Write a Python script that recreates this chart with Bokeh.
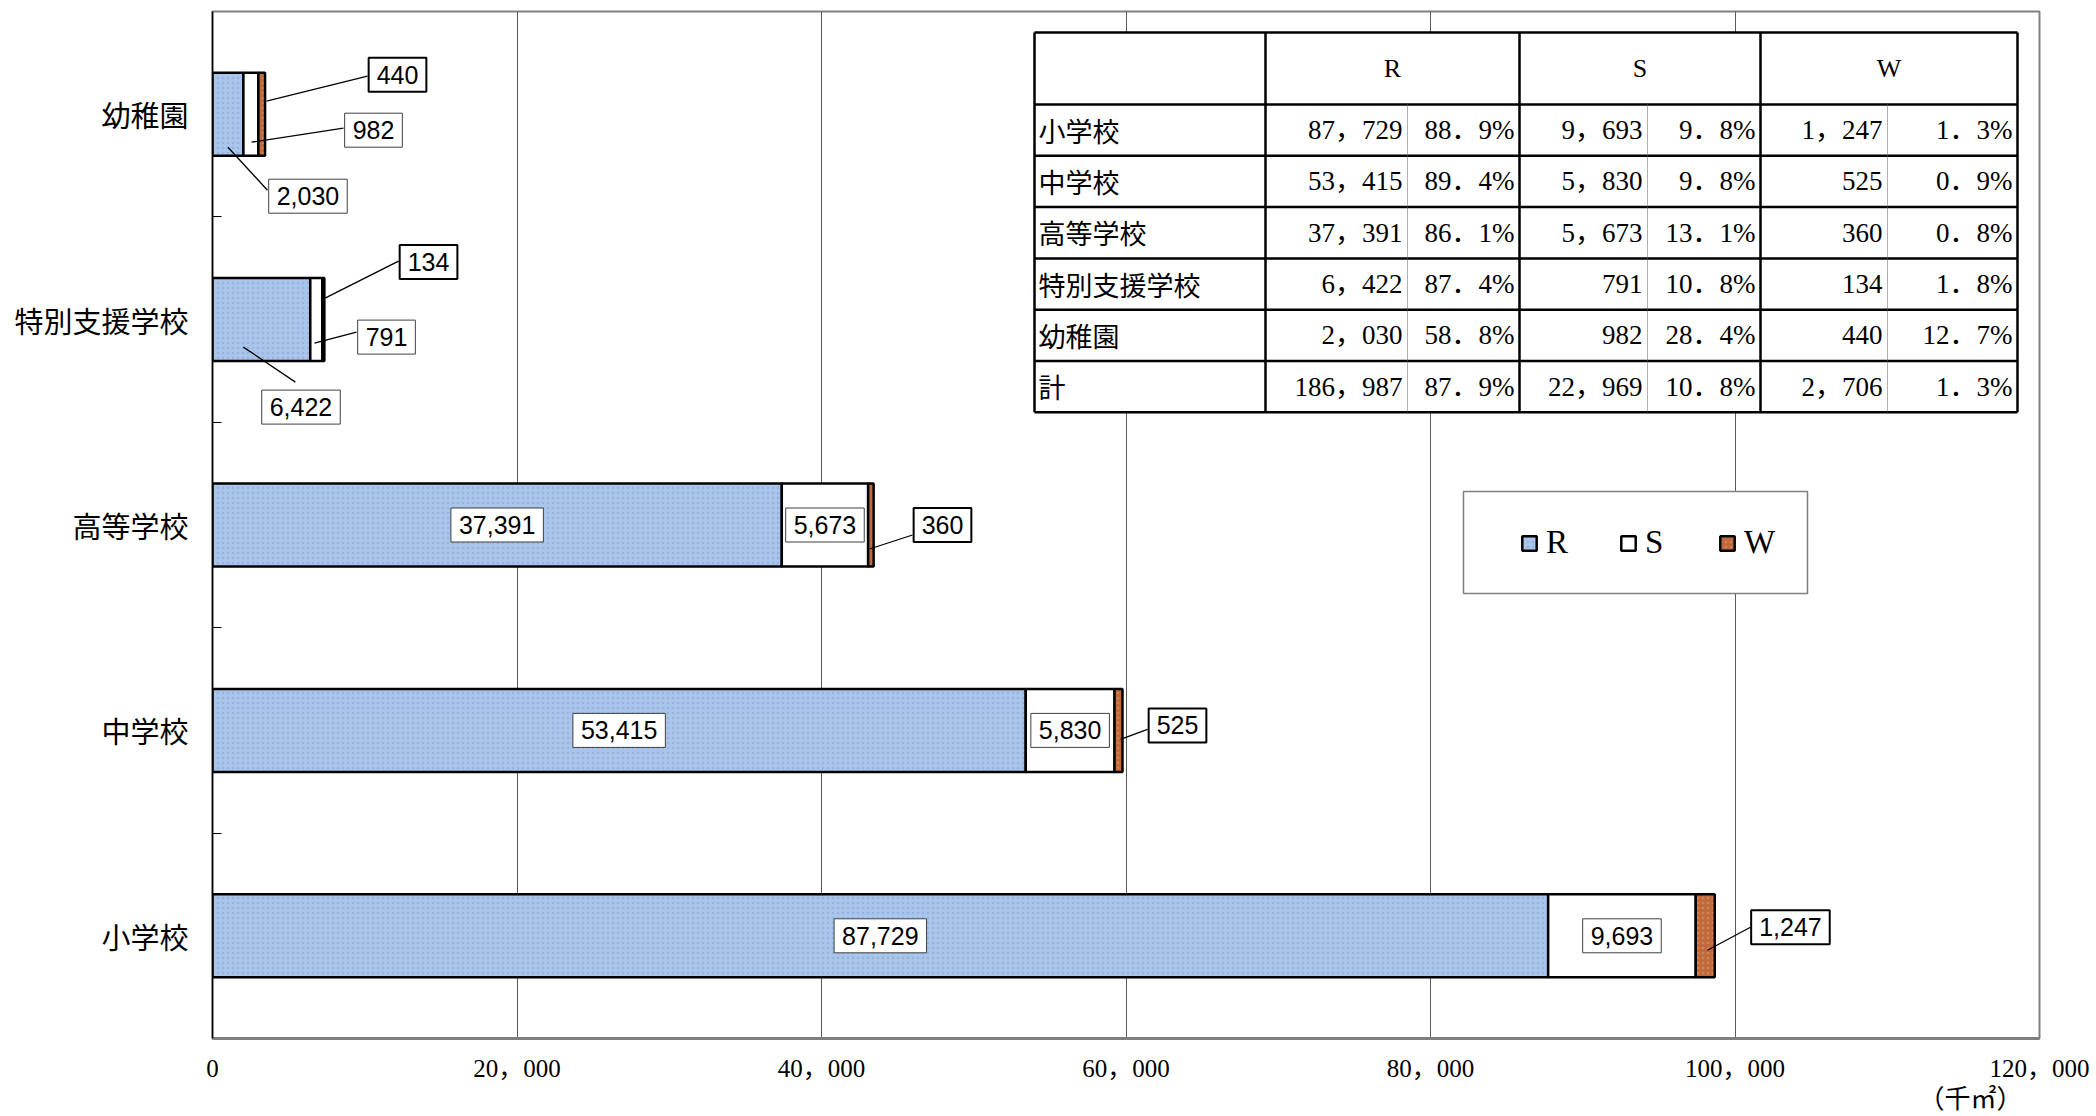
from bokeh.plotting import figure
from bokeh.models import Range1d, FixedTicker, ColumnDataSource, Legend, LegendItem, LinearAxis
from bokeh.core.properties import value
from bokeh.embed import file_html
from bokeh.resources import INLINE

# ---------------- data ----------------
categories = ["小学校", "中学校", "高等学校", "特別支援学校", "幼稚園"]
series = ["R", "S", "W"]
r_values = [87729, 53415, 37391, 6422, 2030]
s_values = [9693, 5830, 5673, 791, 982]
w_values = [1247, 525, 360, 134, 440]
total_label = "計"
x_ticks = [0, 20000, 40000, 60000, 80000, 100000, 120000]
x_tick_labels = ["0", "20，000", "40，000", "60，000", "80，000", "100，000", "120，000"]
unit_label = "（千㎡）"
colors = ["#A9C5EB", "#FFFFFF", "#C0693A"]
hatch_colors = ["#7F9DC8", None, "#E8A57A"]

# ---------------- layout ----------------
BL, BR, BT, BB = 212, 55, 11, 72
FW, FH = 1827, 1027
X_MAX = x_ticks[-1]
N = len(categories)
OX, OY = BL, BT   # frame origin in picture pixels


def X(px):
    return (px - OX) * X_MAX / FW


def Y(py):
    return N - (py - OY) * N / FH


def DX(px):
    return px * X_MAX / FW


def DY(py):
    return -py * N / FH


SANS = value("Liberation Sans")
SERIF = value("Liberation Serif, Noto Sans CJK JP")
JP = value("Noto Sans CJK JP")

p = figure(frame_width=FW, frame_height=FH, output_backend="svg", toolbar_location=None,
           x_range=Range1d(0, X_MAX), y_range=Range1d(0, N),
           min_border_left=BL, min_border_right=BR, min_border_top=BT, min_border_bottom=BB)
p.background_fill_color = "white"
p.border_fill_color = "white"
p.outline_line_color = "#808080"
p.outline_line_width = 2

# axes
p.xaxis.ticker = FixedTicker(ticks=x_ticks)
p.xaxis.major_label_overrides = {t: l for t, l in zip(x_ticks, x_tick_labels)}
p.xaxis.major_label_text_font = "Liberation Serif, Noto Sans CJK JP"
p.xaxis.major_label_text_font_size = "25px"
p.xaxis.major_label_text_color = "black"
p.xaxis.major_label_standoff = 16
p.xaxis.major_tick_in = 0
p.xaxis.major_tick_out = 0
p.xaxis.minor_tick_in = 0
p.xaxis.minor_tick_out = 0
p.xaxis.axis_line_color = "#7F7F7F"
p.xaxis.axis_line_width = 3

# unit label as a second bottom axis carrying one labelled position
unit_pos = X(1970)
unit_axis = LinearAxis(ticker=FixedTicker(ticks=[unit_pos]), major_label_overrides={unit_pos: unit_label},
                       major_label_text_font="Liberation Serif, Noto Sans CJK JP",
                       major_label_text_font_size="26px", major_label_text_color="black",
                       major_label_standoff=0, major_tick_in=0, major_tick_out=0,
                       minor_tick_in=0, minor_tick_out=0, axis_line_alpha=0)
p.add_layout(unit_axis, "below")

ycenters = [i + 0.5 for i in range(N)]
p.yaxis.ticker = FixedTicker(ticks=ycenters, minor_ticks=[i for i in range(1, N)])
p.yaxis.major_label_overrides = {c: n for c, n in zip(ycenters, categories)}
p.yaxis.major_label_text_font = "Noto Sans CJK JP"
p.yaxis.major_label_text_font_size = "29px"
p.yaxis.major_label_text_color = "black"
p.yaxis.major_label_standoff = 24
p.yaxis.major_tick_in = 0
p.yaxis.major_tick_out = 0
p.yaxis.minor_tick_in = 9
p.yaxis.minor_tick_out = 0
p.yaxis.minor_tick_line_color = "black"
p.yaxis.minor_tick_line_width = 1
p.yaxis.axis_line_color = "black"
p.yaxis.axis_line_width = 1.5

p.xgrid.grid_line_color = "#5A5A5A"
p.xgrid.grid_line_width = 1
p.ygrid.visible = False

# ---------------- bars ----------------
vals = [r_values, s_values, w_values]
lefts, rights = [], []
acc = [0] * N
for v in vals:
    lefts.append(list(acc))
    acc = [a + b for a, b in zip(acc, v)]
    rights.append(list(acc))

BAR_H = 0.404
renderers = []
for k, name in enumerate(series):
    src = ColumnDataSource(dict(y=ycenters, left=lefts[k], right=rights[k]))
    kw = {}
    if hatch_colors[k]:
        kw = dict(hatch_pattern="dot", hatch_color=hatch_colors[k], hatch_scale=5,
                  hatch_alpha=0.45, hatch_weight=1)
    r = p.hbar(y="y", left="left", right="right", height=BAR_H, source=src,
               fill_color=colors[k], line_color="black", line_width=2.5, **kw)
    renderers.append(r)

# ---------------- data labels ----------------
# offsets in pixels (box dx, box dy, leader start dx, dy, leader end dx, dy) from segment mid / category centre
offsets = {
    (4, 0): (80, 82, 0, 33, 39.5, 76),
    (4, 1): (122.6, 16, 0.6, 28, 92.6, 14),
    (4, 2): (135.8, -39.5, 4.8, -13, 105.8, -38),
    (3, 0): (39.6, 87.5, -18, 27.5, 34, 62.5),
    (3, 1): (70.2, 17.5, -1.8, 23.5, 40.2, 12.5),
    (3, 2): (105.2, -57.5, 1.7, -21.5, 75.2, -58.5),
    (2, 2): (71.6, 0, -1.4, 24, 41.6, 10),
    (1, 2): (59, -5, 2, 9, 29, -1),
    (0, 2): (85.2, -8.5, 2.2, 14.5, 45.2, -8.5),
}
thin = dict(x=[], y=[], t=[])
thick = dict(x=[], y=[], t=[])
lead = dict(x0=[], y0=[], x1=[], y1=[])
for k in range(len(series)):
    for i in range(N):
        mid = (lefts[k][i] + rights[k][i]) / 2
        yc = ycenters[i]
        txt = f"{vals[k][i]:,}"
        o = offsets.get((i, k))
        bx, by = mid, yc
        if o:
            bx, by = mid + DX(o[0]), yc + DY(o[1])
            lead["x0"].append(mid + DX(o[2]))
            lead["y0"].append(yc + DY(o[3]))
            lead["x1"].append(mid + DX(o[4]))
            lead["y1"].append(yc + DY(o[5]))
        d = thick if k == 2 else thin
        d["x"].append(bx)
        d["y"].append(by)
        d["t"].append(txt)

p.segment(x0="x0", y0="y0", x1="x1", y1="y1", source=ColumnDataSource(lead),
          line_color="black", line_width=1.3)
p.text(x="x", y="y", text="t", source=ColumnDataSource(thin), text_font=SANS,
       text_font_size="25px", text_align="center", text_baseline="middle", text_color="black",
       background_fill_color="white", border_line_color="#404040", border_line_width=1, padding=8)
p.text(x="x", y="y", text="t", source=ColumnDataSource(thick), text_font=SANS,
       text_font_size="25px", text_align="center", text_baseline="middle", text_color="black",
       background_fill_color="white", border_line_color="black", border_line_width=2, padding=8)

# ---------------- table ----------------
TX = [1034, 1265, 1407, 1519, 1647, 1760, 1887, 2017]
T_TOP, HEAD_H, ROW_H = 32, 72, 51.3
rows = categories + [total_label]
n_rows = len(rows)
T_BOT = T_TOP + HEAD_H + ROW_H * n_rows
p.quad(left=X(TX[0]), right=X(TX[-1]), top=Y(T_TOP), bottom=Y(T_BOT), fill_color="white", line_color=None)

hy = [T_TOP, T_TOP + HEAD_H] + [T_TOP + HEAD_H + ROW_H * (j + 1) for j in range(n_rows)]
p.segment(x0=[X(TX[0])] * len(hy), x1=[X(TX[-1])] * len(hy), y0=[Y(v) for v in hy], y1=[Y(v) for v in hy],
          line_color="black", line_width=2.5)
main_x = [TX[0], TX[1], TX[3], TX[5], TX[7]]
p.segment(x0=[X(v) for v in main_x], x1=[X(v) for v in main_x], y0=[Y(T_TOP)] * 5, y1=[Y(T_BOT)] * 5,
          line_color="black", line_width=2.5)
sub_x = [TX[2], TX[4], TX[6]]
p.segment(x0=[X(v) for v in sub_x], x1=[X(v) for v in sub_x], y0=[Y(T_TOP + HEAD_H)] * 3, y1=[Y(T_BOT)] * 3,
          line_color="#606060", line_width=1, line_dash="1 1")

# header
p.text(x=[X((TX[1] + TX[3]) / 2), X((TX[3] + TX[5]) / 2), X((TX[5] + TX[7]) / 2)],
       y=[Y(T_TOP + HEAD_H / 2)] * 3, text=series, text_font=SERIF, text_font_size="26px",
       text_align="center", text_baseline="middle", text_color="black")

tot = [sum(r_values), sum(s_values), sum(w_values)]
row_vals = []
for i in range(N):
    row_vals.append([r_values[i], s_values[i], w_values[i]])
row_vals.append(tot)

lab = dict(x=[], y=[], t=[])
num = dict(x=[], y=[], t=[])
for j, (name, rv) in enumerate(zip(rows, row_vals)):
    yc = Y(T_TOP + HEAD_H + ROW_H * (j + 0.5))
    lab["x"].append(X(TX[0] + 4))
    lab["y"].append(yc)
    lab["t"].append(name)
    s = sum(rv)
    for k in range(3):
        num["x"].append(X(TX[2 * k + 2] - 5))
        num["y"].append(yc)
        num["t"].append(f"{rv[k]:,}".replace(",", "，"))
        num["x"].append(X(TX[2 * k + 3] - 5))
        num["y"].append(yc)
        num["t"].append(f"{100 * rv[k] / s:.1f}".replace(".", "．") + "%")

p.text(x="x", y="y", text="t", source=ColumnDataSource(lab), text_font=JP, text_font_size="27px",
       text_align="left", text_baseline="middle", text_color="black")
p.text(x="x", y="y", text="t", source=ColumnDataSource(num), text_font=SERIF, text_font_size="27px",
       text_align="right", text_baseline="middle", text_color="black")

# ---------------- legend ----------------
p.quad(left=X(1463), right=X(1807), top=Y(491), bottom=Y(593), fill_color="white",
       line_color="#808080", line_width=1.5)
legend = Legend(items=[LegendItem(label=n, renderers=[r]) for n, r in zip(series, renderers)],
                orientation="horizontal", location=(1520 - OX, (OY + FH) - 561),
                padding=0, margin=0, spacing=40, glyph_width=18, glyph_height=18,
                label_width=33, label_standoff=8, label_text_font="Liberation Serif",
                label_text_font_size="33px", label_text_color="black",
                border_line_alpha=0, background_fill_alpha=0)
p.add_layout(legend)

open("out.html", "w").write(file_html(p, INLINE))
